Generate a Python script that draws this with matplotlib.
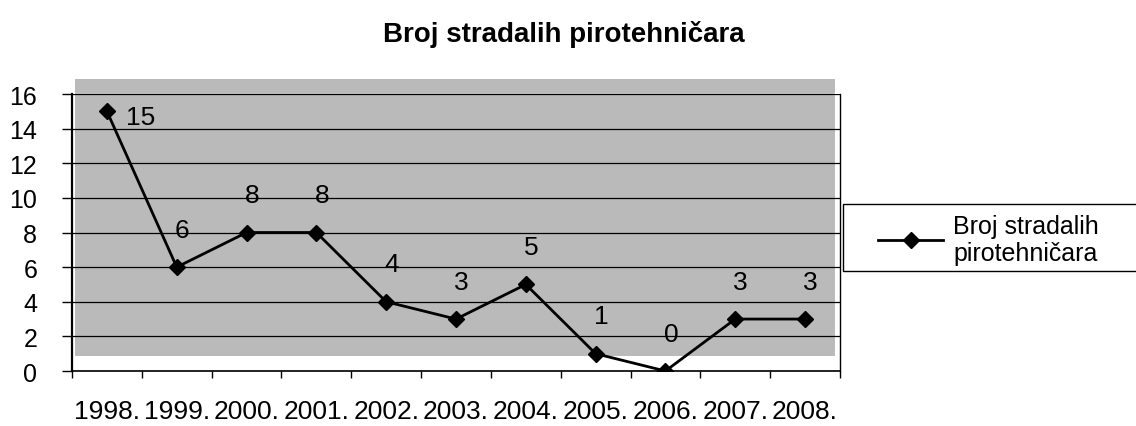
import matplotlib.pyplot as plt
from matplotlib.patches import Rectangle

godine = ['1998.', '1999.', '2000.', '2001.', '2002.', '2003.', '2004.',
          '2005.', '2006.', '2007.', '2008.']
stradali = [15, 6, 8, 8, 4, 3, 5, 1, 0, 3, 3]

plt.rcParams['font.family'] = ['Liberation Sans', 'DejaVu Sans']

fig = plt.figure(figsize=(11.36, 4.27), dpi=100)
ax = fig.add_axes([0.0634, 0.1288, 0.676, 0.6487])

# sivo (skenirano) podrucje grafa
ax.add_patch(Rectangle((0.004, 0.054), 0.99, 1.0, transform=ax.transAxes,
                       facecolor='#bababa', edgecolor='none', zorder=0,
                       clip_on=False))
ax.set_facecolor('none')

x = list(range(len(godine)))
ax.plot(x, stradali, color='black', linewidth=2.0, marker='D', markersize=8.5,
        label='Broj stradalih\npirotehničara', zorder=3)

for i, v in zip(x, stradali):
    if i == 0:
        ax.annotate(str(v), (i, v), xytext=(14, -4), textcoords='offset points',
                    ha='left', va='center', fontsize=19)
    else:
        ax.annotate(str(v), (i, v), xytext=(4, 27), textcoords='offset points',
                    ha='center', va='center', fontsize=19)

ax.set_xlim(-0.5, len(godine) - 0.5)
ax.set_ylim(0, 16)
ax.set_yticks(range(0, 17, 2))
ax.yaxis.grid(True, color='black', linewidth=0.9)
ax.set_axisbelow(True)

ax.set_xticks(x)
ax.set_xticklabels(godine, fontsize=19)
ax.set_xticks([i - 0.5 for i in range(len(godine) + 1)], minor=True)
ax.tick_params(axis='x', which='major', length=0, pad=20)
ax.tick_params(axis='x', which='minor', length=5, width=1, direction='out')
ax.tick_params(axis='y', labelsize=18, length=7, width=1, direction='out', pad=18)

for s in ['left', 'bottom', 'right', 'top']:
    ax.spines[s].set_color('black')
ax.spines['left'].set_linewidth(1.6)
ax.spines['bottom'].set_linewidth(1.2)
ax.spines['right'].set_linewidth(1.0)
ax.spines['top'].set_visible(False)

fig.suptitle('Broj stradalih pirotehničara', fontsize=20, fontweight='bold',
             x=0.496, y=0.95)

# okvir legende (ide do ruba slike)
fig.patches.append(Rectangle((843 / 1136, 1 - 272 / 427), 0.3, 67 / 427,
                             transform=fig.transFigure, facecolor='white',
                             edgecolor='black', linewidth=1.0, zorder=-1))

leg = ax.legend(loc='center left', bbox_to_anchor=(1.05, 0.475), fontsize=18,
                frameon=False, handlelength=2.6, borderpad=0.0,
                borderaxespad=0.0, labelspacing=0.1, handletextpad=0.4)

fig.savefig('out.png', dpi=100)
